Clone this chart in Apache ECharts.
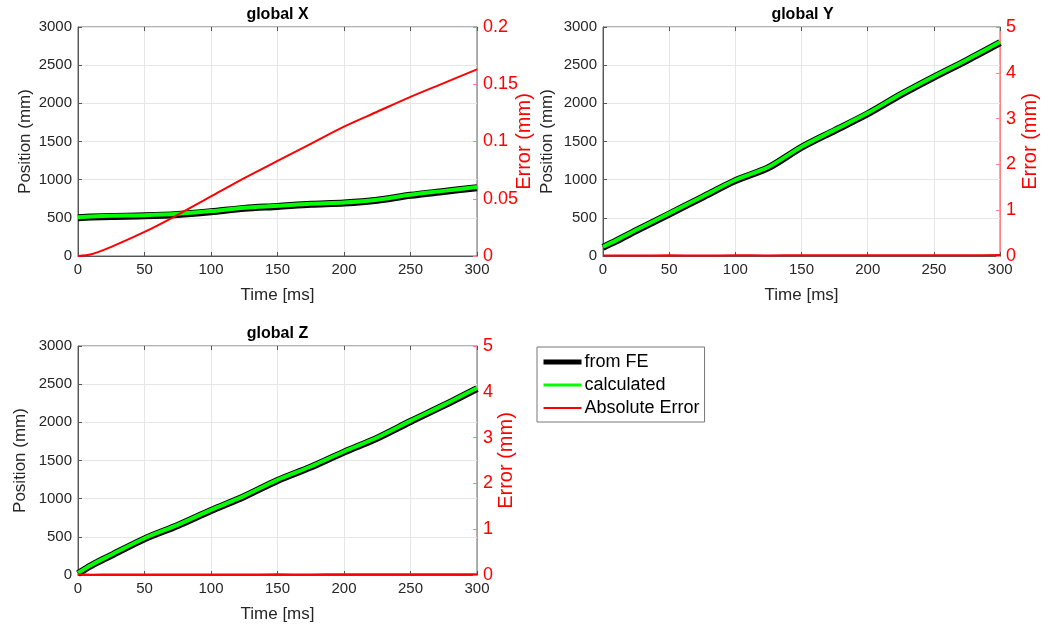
<!DOCTYPE html>
<html>
<head>
<meta charset="utf-8">
<script src="https://cdn.jsdelivr.net/npm/echarts@6/dist/echarts.min.js"></script>
<style>html,body{margin:0;padding:0;background:#fff;}#c{width:1041px;height:624px;}</style>
</head>
<body>
<div id="c"></div>
<script>
// ---- data ----
const time = [0, 10, 25, 50, 75, 100, 125, 150, 175, 200, 225, 250, 275, 300];

const xCalc = [508, 518, 527, 534, 552, 588, 632, 657, 685, 702, 738, 803, 853, 903];
const xFE   = [500, 510, 519, 526, 544, 580, 624, 649, 677, 694, 730, 795, 845, 895];
const xErr  = [0, 0.0015, 0.008, 0.021, 0.036, 0.052, 0.068, 0.083, 0.098, 0.113, 0.126, 0.139, 0.151, 0.163];

const yCalc = [122, 205, 340, 558, 777, 995, 1165, 1432, 1652, 1872, 2122, 2352, 2572, 2803];
const yFE   = [114, 197, 332, 550, 769, 987, 1157, 1424, 1644, 1864, 2114, 2344, 2564, 2795];
const yErr  = [0.01, 0.012, 0.01, 0.014, 0.012, 0.015, 0.013, 0.016, 0.014, 0.017, 0.015, 0.016, 0.018, 0.02];

const zCalc = [26, 132, 265, 482, 657, 853, 1037, 1247, 1421, 1618, 1802, 2019, 2229, 2450];
const zFE   = [18, 124, 257, 474, 649, 845, 1029, 1239, 1413, 1610, 1794, 2011, 2221, 2442];
const zErr  = [0.01, 0.008, 0.01, 0.012, 0.011, 0.013, 0.012, 0.014, 0.013, 0.015, 0.014, 0.016, 0.015, 0.017];

const titles = ['global X', 'global Y', 'global Z'];
const legendNames = ['from FE', 'calculated', 'Absolute Error'];

// ---- chart ----
const FONT = 'Liberation Sans, Arial, Helvetica, sans-serif';
const pair = (vals) => vals.map((v, i) => [time[i], v]);
const fmt = (v) => String(+(+v).toFixed(4));

const grids = [
  {left: 78, top: 27, width: 399, height: 229},
  {left: 603, top: 27, width: 399, height: 229},
  {left: 78, top: 346, width: 399, height: 229}
].map(g => Object.assign(g, {show: true, borderColor: '#666', borderWidth: 1, backgroundColor: 'transparent', containLabel: false}));

const xAxes = [0, 1, 2].map(i => ({
  type: 'value', gridIndex: i, position: 'bottom', min: 0, max: 300, interval: 50,
  name: 'Time [ms]', nameLocation: 'middle', nameGap: 31,
  nameTextStyle: {fontFamily: FONT, fontSize: 17, color: '#262626'},
  axisLine: {show: true, onZero: false, lineStyle: {color: '#555'}},
  axisTick: {show: true, inside: true, length: 4, lineStyle: {color: '#555'}},
  axisLabel: {fontFamily: FONT, fontSize: 15, color: '#262626', margin: 6, formatter: fmt},
  splitLine: {show: true, lineStyle: {color: '#e6e6e6'}}
})).concat([0, 1, 2].map(i => ({
  type: 'value', gridIndex: i, position: 'top', min: 0, max: 300, interval: 50,
  axisLine: {show: false, onZero: false},
  axisTick: {show: true, inside: true, length: 4, lineStyle: {color: '#555'}},
  axisLabel: {show: false},
  splitLine: {show: false}
})));

function leftAxis(gi, gap) {
  return {
    type: 'value', gridIndex: gi, position: 'left', min: 0, max: 3000, interval: 500,
    name: 'Position (mm)', nameLocation: 'middle', nameGap: gap,
    nameTextStyle: {fontFamily: FONT, fontSize: 17, color: '#262626'},
    axisLine: {show: true, onZero: false, lineStyle: {color: '#555'}},
    axisTick: {show: true, inside: true, length: 4, lineStyle: {color: '#555'}},
    axisLabel: {fontFamily: FONT, fontSize: 15, color: '#262626', margin: 6, formatter: fmt},
    splitLine: {show: true, lineStyle: {color: '#e6e6e6'}}
  };
}
function rightAxis(gi, max, interval, gap, noMove) {
  const ax = {
    type: 'value', gridIndex: gi, position: 'right', min: 0, max: max, interval: interval,
    name: 'Error (mm)', nameLocation: 'middle', nameGap: gap, nameRotate: 90,
    nameTextStyle: {fontFamily: FONT, fontSize: 20, color: '#ff0000'},
    axisLine: {show: true, onZero: false, lineStyle: {color: '#ff8080'}},
    axisTick: {show: true, inside: true, length: 4, lineStyle: {color: '#ff8080'}},
    axisLabel: {fontFamily: FONT, fontSize: 18, color: '#ff0000', margin: 6, formatter: fmt},
    splitLine: {show: false}
  };
  if (noMove) ax.nameMoveOverlap = false;
  return ax;
}

const yAxes = [
  leftAxis(0, 44), rightAxis(0, 0.2, 0.05, 37, true),
  leftAxis(1, 47), rightAxis(1, 5, 1, 18),
  leftAxis(2, 49), rightAxis(2, 5, 1, 17)
];

const sets = [[xFE, xCalc, xErr], [yFE, yCalc, yErr], [zFE, zCalc, zErr]];
const series = [];
sets.forEach((s, i) => {
  series.push({name: legendNames[0], type: 'line', xAxisIndex: i, yAxisIndex: 2 * i, data: pair(s[0]),
    showSymbol: false, symbol: 'none', smooth: 0.3, lineStyle: {color: '#000', width: 7}, itemStyle: {color: '#000'}, z: 2});
  series.push({name: legendNames[1], type: 'line', xAxisIndex: i, yAxisIndex: 2 * i, data: pair(s[1]),
    showSymbol: false, symbol: 'none', smooth: 0.3, lineStyle: {color: '#00ff00', width: 4}, itemStyle: {color: '#00ff00'}, z: 3});
  series.push({name: legendNames[2], type: 'line', xAxisIndex: i, yAxisIndex: 2 * i + 1, data: pair(s[2]),
    showSymbol: false, symbol: 'none', smooth: 0.3, lineStyle: {color: '#ff0000', width: 2}, itemStyle: {color: '#ff0000'}, z: 4});
});

const gridCenters = [277.5, 802.5, 277.5];
const titleTops = [7, 7, 326];

const option = {
  animation: false,
  backgroundColor: '#fff',
  title: titles.map((t, i) => ({
    text: t, left: gridCenters[i], top: titleTops[i], textAlign: 'center', padding: 0,
    textStyle: {fontFamily: FONT, fontSize: 16, fontWeight: 'bold', color: '#000'}
  })),
  grid: grids,
  xAxis: xAxes,
  yAxis: yAxes,
  legend: {
    orient: 'vertical', left: 537, top: 347,
    padding: [6, 5, 5, 4], itemGap: 5, itemWidth: 38, itemHeight: 14,
    borderColor: '#777', borderWidth: 1, backgroundColor: '#fff',
    textStyle: {fontFamily: FONT, fontSize: 18, color: '#000', padding: [0, 0, 0, -2]},
    data: [
      {name: legendNames[0], lineStyle: {width: 5, color: '#000'}, itemStyle: {opacity: 0}},
      {name: legendNames[1], lineStyle: {width: 3, color: '#00ff00'}, itemStyle: {opacity: 0}},
      {name: legendNames[2], lineStyle: {width: 2, color: '#ff0000'}, itemStyle: {opacity: 0}}
    ],
    selectedMode: false
  },
  series: series
};

const chart = echarts.init(document.getElementById('c'), null, {renderer: 'canvas'});
chart.setOption(option);
</script>
</body>
</html>
